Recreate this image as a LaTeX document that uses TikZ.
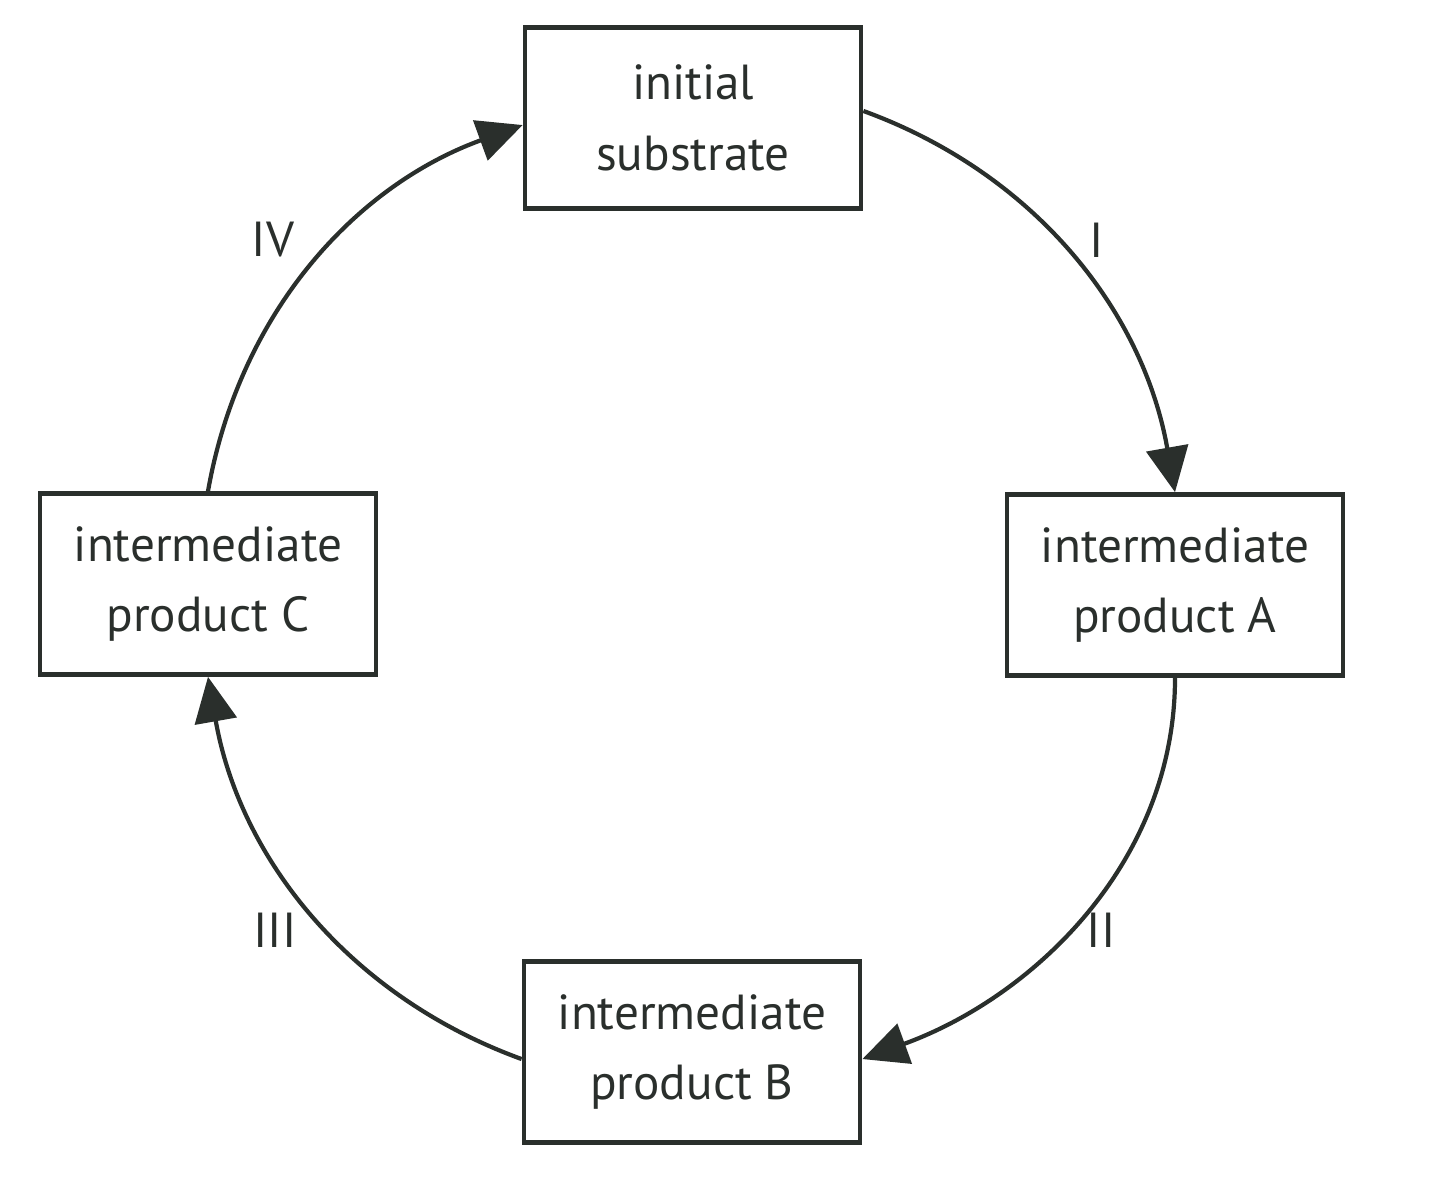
\documentclass[tikz,border=0pt]{standalone}
\usepackage{fontspec}
\setmainfont{PT Sans}
\usetikzlibrary{arrows.meta}
\definecolor{ink}{HTML}{2A2F2C}
\begin{document}
\begin{tikzpicture}[x=0.01cm,y=-0.01cm,
  box/.style={draw=ink, line width=1.3pt, minimum width=3.36cm, minimum height=1.81cm, align=center, font=\fontsize{14}{20}\selectfont, text=ink, inner sep=0pt},
  conn/.style={draw=ink, line width=1.2pt, -{Triangle[length=0.45cm,width=0.42cm,fill=ink]}},
  lab/.style={font=\fontsize{14}{18}\selectfont, text=ink}]
\useasboundingbox (0,0) rectangle (1440,1193);
\node[box] (s) at (693,118) {initial\\substrate};
\node[box] (a) at (1175,585) {intermediate\\product A};
\node[box] (b) at (692,1052) {intermediate\\product B};
\node[box] (c) at (208,584) {intermediate\\product C};
\draw[conn] ([yshift=2]s.east) to[out=-20,in=100,looseness=0.95] (a.north);
\draw[conn] (a.south) to[out=-90,in=20,looseness=0.95] ([yshift=-2]b.east);
\draw[conn] ([yshift=-2]b.west) to[out=160,in=-80,looseness=0.95] (c.south);
\draw[conn] (c.north) to[out=80,in=200,looseness=0.95] ([yshift=-2]s.west);
\node[lab] (l1) at (1097,240) {I};
\node[lab] (l2) at (1101,930) {II};
\node[lab] (l3) at (275,930) {III};
\node[lab] (l4) at (273,240) {IV};
\end{tikzpicture}
\end{document}
